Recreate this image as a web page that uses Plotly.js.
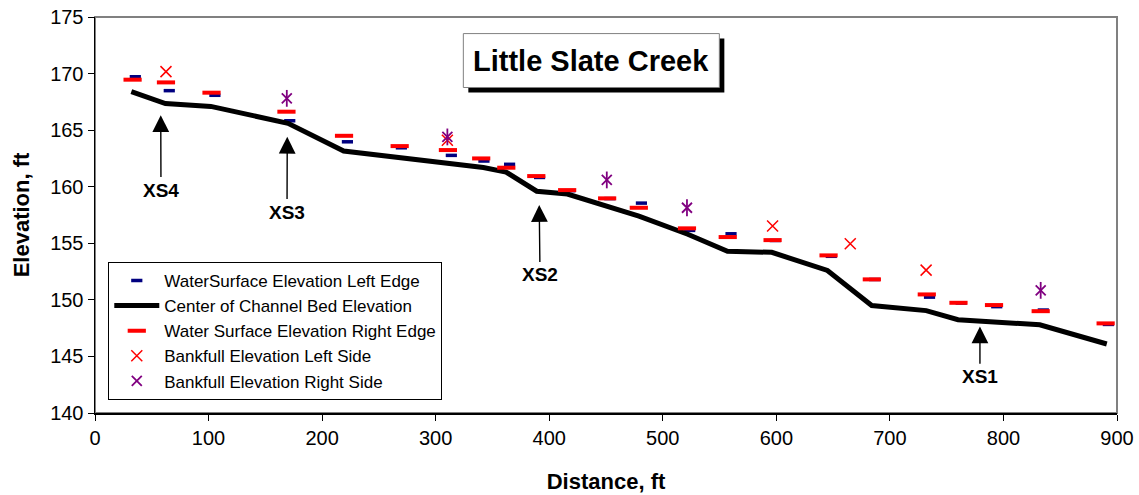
<!DOCTYPE html>
<html>
<head>
<meta charset="utf-8">
<script src="https://cdn.plot.ly/plotly-3.0.1.min.js"></script>
<style>html,body{margin:0;padding:0;background:#fff;}#chart{width:1139px;height:495px;}</style>
</head>
<body>
<div id="chart"></div>
<script>
// Center of channel bed
const bedX = [32, 62, 102, 170, 219, 268, 312, 342, 362, 389, 416, 450, 479, 522, 557, 596, 645, 684, 732, 760, 832, 891];
const bedY = [168.4, 167.35, 167.1, 165.6, 163.15, 162.6, 162.05, 161.7, 161.3, 159.6, 159.35, 158.35, 157.4, 155.8, 154.3, 154.2, 152.6, 149.5, 149.05, 148.25, 147.8, 146.1];
// Water surface elevation left edge
const wsLeftX = [35.5, 65.4, 105.6, 171.5, 222.3, 269.8, 313.8, 342.5, 365.1, 391.5, 418.2, 453.4, 481.2, 523.7, 560.1, 599.1, 648.4, 686.5, 734.9, 762.8, 794.1, 835.1, 892.4];
const wsLeftY = [169.72, 168.49, 168.08, 165.83, 163.97, 163.44, 162.77, 162.27, 161.98, 160.82, 159.65, 158.95, 158.55, 156.14, 155.84, 155.25, 153.85, 151.8, 150.24, 149.72, 149.4, 149.1, 147.83];
// Water surface elevation right edge
const wsRightX = [33.1, 62.5, 102.6, 168.6, 219.3, 268.3, 310.8, 340.1, 362.2, 388.6, 415.8, 451, 478.9, 521.3, 557.2, 596.7, 646, 684.1, 732.5, 760.4, 791.7, 832.8, 890];
const wsRightY = [169.46, 169.22, 168.31, 166.63, 164.5, 163.59, 163.24, 162.5, 161.68, 160.94, 159.7, 158.97, 158.14, 156.32, 155.55, 155.28, 153.93, 151.81, 150.48, 149.74, 149.54, 149.0, 147.92];
// Bankfull elevations
const bfLeftX = [62.5, 310.3, 596.7, 665.1, 731.9];
const bfLeftY = [170.17, 164.1, 156.52, 154.96, 152.63];
const bfRightX = [168.9, 310.3, 450.7, 521.3, 832.8];
const bfRightY = [167.81, 164.4, 160.6, 158.14, 150.84];
// Cross-section labels
const xsLabels = ["XS4", "XS3", "XS2", "XS1"];
const xsTipX = [57.9, 169.3, 391.2, 779.3];
const xsTipY = [166.32, 164.41, 158.38, 147.64];
const xsTextX = [58.1, 169.1, 391.9, 779.3];
const xsTextY = [159.7, 157.76, 152.2, 143.2];
const titleText = "Little Slate Creek";

const FONT = "Arial, 'Liberation Sans', sans-serif";

const traces = [
  {x: wsLeftX, y: wsLeftY, mode: 'markers', type: 'scatter', name: 'WaterSurface Elevation Left Edge',
   marker: {symbol: 'line-ew-open', size: 8, color: '#000080', line: {color: '#000080', width: 3.5}}},
  {x: bedX, y: bedY, mode: 'lines', type: 'scatter', name: 'Center of Channel Bed Elevation',
   line: {color: '#000000', width: 5}},
  {x: wsRightX, y: wsRightY, mode: 'markers', type: 'scatter', name: 'Water Surface Elevation Right Edge',
   marker: {symbol: 'line-ew-open', size: 13, color: '#ff0000', line: {color: '#ff0000', width: 4}}},
  {x: bfLeftX, y: bfLeftY, mode: 'markers', type: 'scatter', name: 'Bankfull Elevation Left Side',
   marker: {symbol: 'x-thin-open', size: 11, color: '#ff0000', line: {color: '#ff0000', width: 1.5}}},
  {x: bfRightX, y: bfRightY, mode: 'markers', type: 'scatter', name: 'Bankfull Elevation Right Side',
   marker: {symbol: 'x-thin-open', size: 10, color: '#800080', line: {color: '#800080', width: 1.8}}},
  {x: bfRightX, y: bfRightY, mode: 'markers', type: 'scatter', name: 'Bankfull Elevation Right Side', showlegend: false,
   marker: {symbol: 'line-ns-open', size: 12, color: '#800080', line: {color: '#800080', width: 1.8}}}
];

const annotations = [];
for (let i = 0; i < xsLabels.length; i++) {
  annotations.push({
    x: xsTipX[i], y: xsTipY[i], xref: 'x', yref: 'y',
    ax: xsTextX[i], ay: xsTextY[i], axref: 'x', ayref: 'y',
    text: '<b>' + xsLabels[i] + '</b>', showarrow: true,
    arrowhead: 2, arrowsize: 2.4, arrowwidth: 1.4, arrowcolor: '#000',
    font: {family: FONT, size: 19, color: '#000'}, borderpad: 2, standoff: 0
  });
}
// Title text (box drawn with shapes)
annotations.push({
  x: 0.4857, y: 0.890, xref: 'paper', yref: 'paper', xanchor: 'center', yanchor: 'middle',
  text: '<b>' + titleText + '</b>', showarrow: false,
  font: {family: FONT, size: 29, color: '#000'}
});

const layout = {
  width: 1139, height: 495,
  margin: {l: 95, r: 22, t: 17, b: 82},
  paper_bgcolor: '#fff', plot_bgcolor: '#fff',
  showlegend: true,
  font: {family: FONT, color: '#000'},
  xaxis: {
    range: [0, 900], dtick: 100, tick0: 0, showgrid: false, zeroline: false,
    ticks: 'outside', ticklen: 6, tickcolor: '#000', showline: true, linecolor: '#000', linewidth: 1.5,
    tickfont: {family: FONT, size: 20, color: '#000'},
    title: {text: '<b>Distance, ft</b>', font: {family: FONT, size: 22, color: '#000'}, standoff: 26}
  },
  yaxis: {
    range: [140, 175], dtick: 5, tick0: 140, showgrid: false, zeroline: false,
    ticks: 'outside', ticklen: 6, tickcolor: '#000', showline: true, linecolor: '#000', linewidth: 1.5,
    tickfont: {family: FONT, size: 20, color: '#000'},
    title: {text: '<b>Elevation, ft</b>', font: {family: FONT, size: 22, color: '#000'}, standoff: 14}
  },
  legend: {
    x: 0.013, y: 0.3815, xanchor: 'left', yanchor: 'top',
    bgcolor: '#fff', bordercolor: '#000', borderwidth: 1,
    font: {family: FONT, size: 17, color: '#000'}, itemwidth: 45, tracegroupgap: 4,
    traceorder: 'normal'
  },
  shapes: [
    {type: 'rect', xref: 'paper', yref: 'paper', x0: 0, x1: 1, y0: 0, y1: 1,
     line: {color: '#808080', width: 2}, layer: 'below'},
    {type: 'rect', xref: 'paper', yref: 'paper', x0: 0.3653, x1: 0.6158, y0: 0.8094, y1: 0.9455,
     line: {color: '#000', width: 0}, fillcolor: '#000', layer: 'above'},
    {type: 'rect', xref: 'paper', yref: 'paper', x0: 0.3604, x1: 0.6109, y0: 0.822, y1: 0.9581,
     line: {color: '#808080', width: 1}, fillcolor: '#fff', layer: 'above'}
  ],
  annotations: annotations
};

Plotly.newPlot('chart', traces, layout, {displayModeBar: false, staticPlot: true});
</script>
</body>
</html>
